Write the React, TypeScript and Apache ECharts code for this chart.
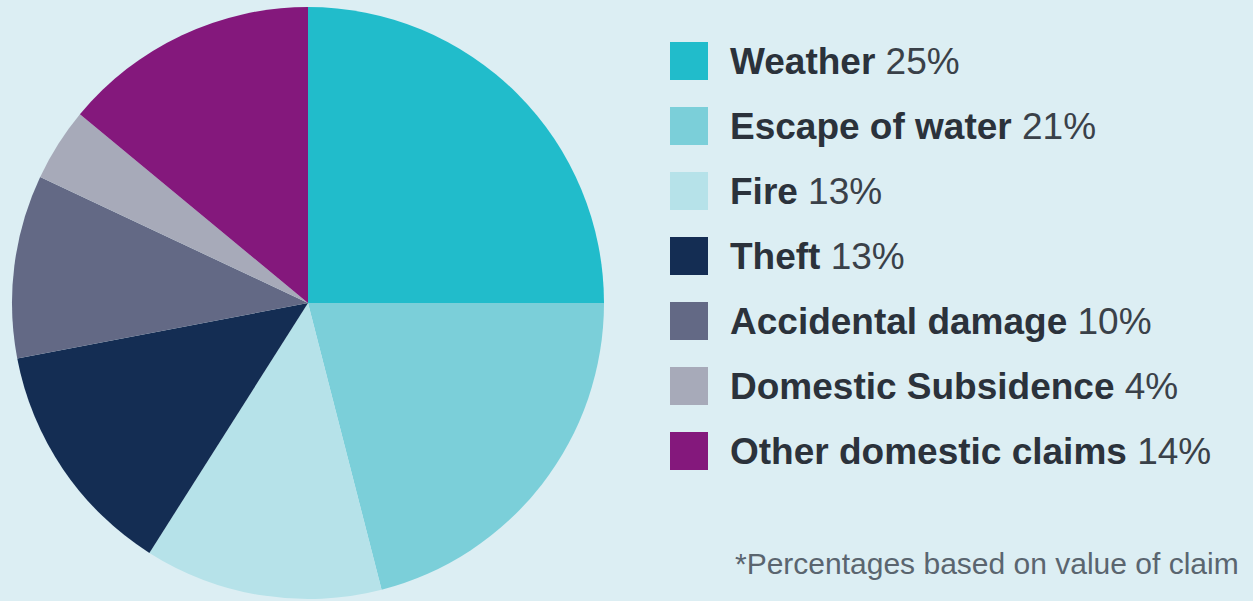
import React, { useEffect, useRef } from "react";
import * as echarts from "echarts";

const categories = [
  "Weather",
  "Escape of water",
  "Fire",
  "Theft",
  "Accidental damage",
  "Domestic Subsidence",
  "Other domestic claims",
];
const values = [25, 21, 13, 13, 10, 4, 14];
const colors = ["#21bccb", "#7bcfd9", "#b6e2e9", "#142d53", "#636985", "#a7aab9", "#84187c"];
const footnote = "*Percentages based on value of claim";

export default function App() {
  const ref = useRef<HTMLDivElement>(null);
  useEffect(() => {
    const chart = echarts.init(ref.current!, null, { renderer: "svg" });
    const pctByName: Record<string, number> = {};
    categories.forEach((c, i) => (pctByName[c] = values[i]));
    chart.setOption({
      animation: false,
      backgroundColor: "#dceef3",
      color: colors,
      legend: {
        orient: "vertical",
        left: 665,
        top: 37,
        icon: "rect",
        itemWidth: 38,
        itemHeight: 38,
        itemGap: 27,
        selectedMode: false,
        data: categories,
        formatter: (name: string) => `{n|${name}}{p| ${pctByName[name]}%}`,
        textStyle: {
          padding: [0, 0, 0, 17],
          rich: {
            n: {
              fontFamily: "Liberation Sans",
              fontSize: 37,
              fontWeight: "bold",
              color: "#2b323b",
              lineHeight: 38,
            },
            p: {
              fontFamily: "Liberation Sans",
              fontSize: 37,
              color: "#3a4149",
              lineHeight: 38,
            },
          },
        },
      },
      graphic: [
        {
          type: "text",
          left: 735,
          top: 548,
          style: {
            text: footnote,
            fontFamily: "Liberation Sans",
            fontSize: 30,
            fill: "#5a656f",
          },
        },
      ],
      series: [
        {
          type: "pie",
          center: [308, 303],
          radius: 296,
          startAngle: 90,
          clockwise: true,
          label: { show: false },
          labelLine: { show: false },
          emphasis: { disabled: true },
          itemStyle: { borderWidth: 0 },
          data: categories.map((c, i) => ({ name: c, value: values[i] })),
        },
      ],
    });
    return () => chart.dispose();
  }, []);
  return (
    <div
      ref={ref}
      style={{ position: "absolute", left: 0, top: 0, width: 1253, height: 601 }}
    />
  );
}
